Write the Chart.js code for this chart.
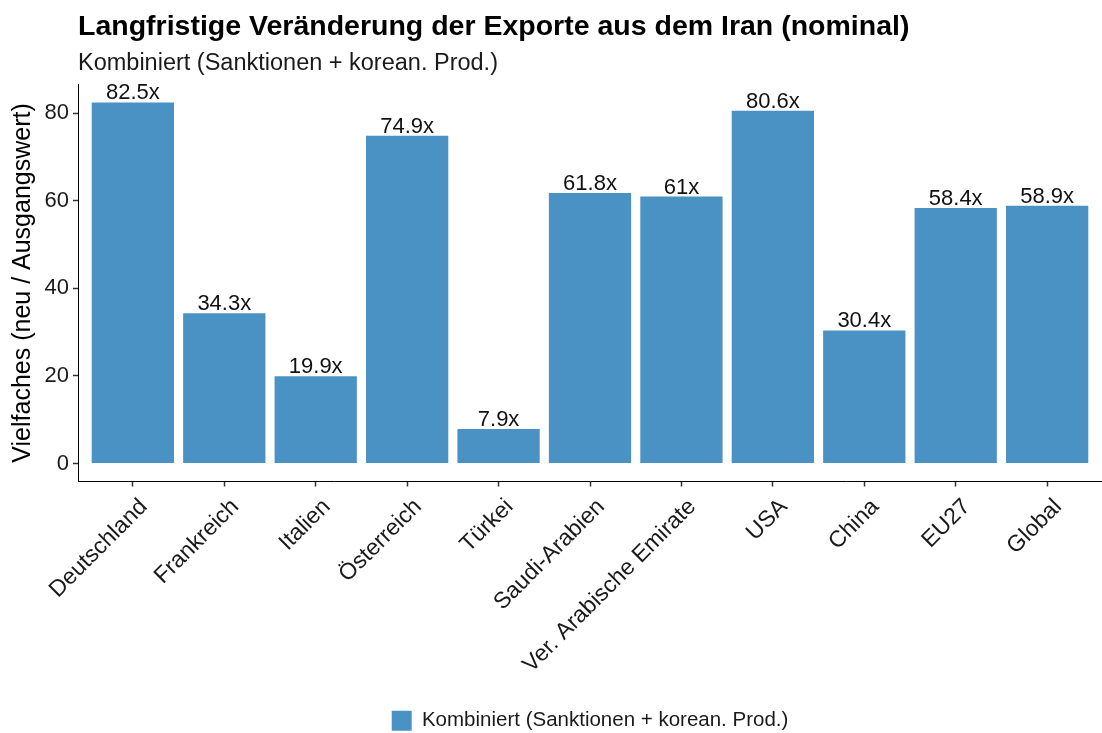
<!DOCTYPE html>
<html>
<head>
<meta charset="utf-8">
<script src="https://cdn.jsdelivr.net/npm/chart.js@4"></script>
<style>
  html, body { margin: 0; padding: 0; background: #fff; }
  #wrap { width: 1102px; height: 733px; }
</style>
</head>
<body>
<div id="wrap"><canvas id="exporte"></canvas></div>
<script>
// Daten
var laender = ['Deutschland', 'Frankreich', 'Italien', 'Österreich', 'Türkei', 'Saudi-Arabien', 'Ver. Arabische Emirate', 'USA', 'China', 'EU27', 'Global'];
var vielfaches = [82.5, 34.3, 19.9, 74.9, 7.9, 61.8, 61, 80.6, 30.4, 58.4, 58.9];
var yTicks = [0, 20, 40, 60, 80];
var serienName = 'Kombiniert (Sanktionen + korean. Prod.)';

var FONT = '"Liberation Sans", Arial, sans-serif';

// Positionen 1..n wie bei einer diskreten ggplot-Achse
var punkte = vielfaches.map(function(v, i) { return { x: i + 1, y: v }; });

// Werte über den Balken
var barLabels = {
    id: 'barLabels',
    afterDatasetsDraw: function(chart) {
        var ctx = chart.ctx;
        var meta = chart.getDatasetMeta(0);
        ctx.save();
        ctx.font = '22px ' + FONT;
        ctx.fillStyle = '#111';
        ctx.textAlign = 'center';
        ctx.textBaseline = 'alphabetic';
        meta.data.forEach(function(bar, i) {
            ctx.fillText(vielfaches[i] + 'x', bar.x, bar.y - 3);
        });
        ctx.restore();
    }
};

var ctx = document.getElementById('exporte').getContext('2d');
var exporte = new Chart(ctx, {
    type: 'bar',
    data: {
        datasets: [{
            label: serienName,
            data: punkte,
            backgroundColor: '#4a92c4',
            borderWidth: 0,
            barPercentage: 0.9,
            categoryPercentage: 1.0
        }]
    },
    options: {
        responsive: true,
        maintainAspectRatio: false,
        animation: false,
        layout: { padding: { left: 0, right: 0, top: 0, bottom: -8 } },
        plugins: {
            title: {
                display: true,
                text: 'Langfristige Veränderung der Exporte aus dem Iran (nominal)',
                align: 'start',
                fullSize: false,
                color: '#000',
                font: { family: FONT, size: 28.5, weight: 'bold' },
                padding: { top: 10, bottom: 5 }
            },
            subtitle: {
                display: true,
                text: serienName,
                align: 'start',
                fullSize: false,
                color: '#1a1a1a',
                font: { family: FONT, size: 23.5 },
                padding: { top: 0, bottom: 7 }
            },
            legend: {
                position: 'bottom',
                fullSize: false,
                labels: {
                    boxWidth: 20,
                    boxHeight: 20,
                    color: '#1a1a1a',
                    font: { family: FONT, size: 20.5 },
                    padding: 3
                }
            },
            tooltip: { enabled: false }
        },
        scales: {
            x: {
                type: 'linear',
                min: 0.4,
                max: 11.6,
                offset: false,
                afterBuildTicks: function(s) {
                    s.ticks = laender.map(function(l, i) { return { value: i + 1 }; });
                },
                grid: {
                    display: true,
                    offset: false,
                    drawOnChartArea: false,
                    drawTicks: true,
                    tickLength: 5,
                    tickColor: '#333',
                    tickWidth: 1.5,
                    color: '#333'
                },
                border: { display: true, color: '#000', width: 1 },
                ticks: {
                    maxRotation: 45,
                    minRotation: 45,
                    autoSkip: false,
                    color: '#1a1a1a',
                    padding: 7,
                    labelOffset: 11,
                    font: { family: FONT, size: 23 },
                    callback: function(v) { return laender[Math.round(v) - 1]; }
                },
                afterFit: function(s) { s.height = 226; }
            },
            y: {
                min: -4.125,
                max: 86.625,
                afterBuildTicks: function(s) {
                    s.ticks = yTicks.map(function(v) { return { value: v }; });
                },
                grid: {
                    display: true,
                    drawOnChartArea: false,
                    drawTicks: true,
                    tickLength: 5,
                    tickColor: '#333',
                    tickWidth: 1.5,
                    color: '#333'
                },
                border: { display: true, color: '#000', width: 1 },
                ticks: {
                    color: '#1a1a1a',
                    padding: 4,
                    font: { family: FONT, size: 22 }
                },
                title: {
                    display: true,
                    text: 'Vielfaches (neu / Ausgangswert)',
                    color: '#000',
                    font: { family: FONT, size: 25 },
                    padding: { top: 8, bottom: 0 }
                },
                afterFit: function(s) { s.width = 78; }
            }
        }
    },
    plugins: [barLabels]
});
</script>
</body>
</html>
